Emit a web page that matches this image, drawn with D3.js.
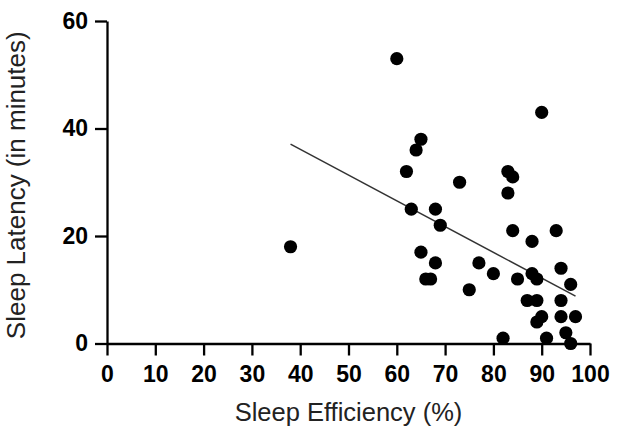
<!DOCTYPE html>
<html>
<head>
<meta charset="utf-8">
<script src="https://cdn.jsdelivr.net/npm/d3@7"></script>
<style>
  body { margin: 0; background: #fff; }
  svg { display: block; font-family: "Liberation Sans", Arial, Helvetica, sans-serif; }
</style>
</head>
<body>
<div id="chart"></div>
<script>
// Sleep efficiency (%) vs sleep latency (minutes), one pair per subject
var efficiency = [38, 60, 65, 64, 62, 73, 90, 83, 84, 83, 63, 68, 69, 84, 93, 88, 65, 68, 77, 94,
                  66, 67, 80, 85, 88, 89, 96, 75, 87, 89, 94, 90, 89, 94, 97, 95, 96, 91, 82];
var latency    = [18, 53, 38, 36, 32, 30, 43, 32, 31, 28, 25, 25, 22, 21, 21, 19, 17, 15, 15, 14,
                  12, 12, 13, 12, 13, 12, 11, 10, 8, 8, 8, 5, 4, 5, 5, 2, 0, 1, 1];

// fitted line end points, as drawn in the figure
var fitX = [38, 97];
var fitY = [37.1, 8.8];

var xTicks = [0, 10, 20, 30, 40, 50, 60, 70, 80, 90, 100];
var yTicks = [0, 20, 40, 60];

var w = 621;
var h = 428;

var xScale = d3.scaleLinear()
    .domain([0, 100])
    .range([107, 590]);

var yScale = d3.scaleLinear()
    .domain([0, 60])
    .range([343.5, 21]);

var svg = d3.select("#chart")
    .append("svg")
    .attr("width", w)
    .attr("height", h);

// x axis
var xAxis = svg.append("g")
    .attr("transform", `translate(0,${yScale(0)})`)
    .call(d3.axisBottom(xScale).tickValues(xTicks).tickSize(12).tickSizeOuter(0).tickPadding(10));

// y axis
var yAxis = svg.append("g")
    .attr("transform", `translate(${xScale(0)},0)`)
    .call(d3.axisLeft(yScale).tickValues(yTicks).tickSize(12).tickSizeOuter(0).tickPadding(7));

[xAxis, yAxis].forEach(function(ax) {
    ax.selectAll("path, line")
        .attr("stroke", "#000")
        .attr("stroke-width", 2.3);
    ax.selectAll("text")
        .attr("fill", "#000")
        .style("font-size", "23px")
        .style("font-weight", "bold")
        .style("font-family", "'Liberation Sans', Arial, sans-serif");
});

// regression line
svg.append("line")
    .attr("x1", xScale(fitX[0]))
    .attr("y1", yScale(fitY[0]))
    .attr("x2", xScale(fitX[1]))
    .attr("y2", yScale(fitY[1]))
    .attr("stroke", "#333")
    .attr("stroke-width", 1.5);

// points
svg.append("g")
    .selectAll("circle")
    .data(efficiency.map((d, i) => ({x: d, y: latency[i]})))
    .enter()
    .append("circle")
    .attr("cx", d => xScale(d.x))
    .attr("cy", d => yScale(d.y))
    .attr("r", 6.6)
    .attr("fill", "#000");

// axis titles
svg.append("text")
    .attr("x", (xScale(0) + xScale(100)) / 2)
    .attr("y", 421)
    .attr("text-anchor", "middle")
    .attr("fill", "#222")
    .style("font-size", "25.5px")
    .text("Sleep Efficiency (%)");

svg.append("text")
    .attr("transform", `translate(25,${(yScale(0) + yScale(60)) / 2 + 3}) rotate(-90)`)
    .attr("text-anchor", "middle")
    .attr("fill", "#222")
    .style("font-size", "26px")
    .text("Sleep Latency (in minutes)");
</script>
</body>
</html>
